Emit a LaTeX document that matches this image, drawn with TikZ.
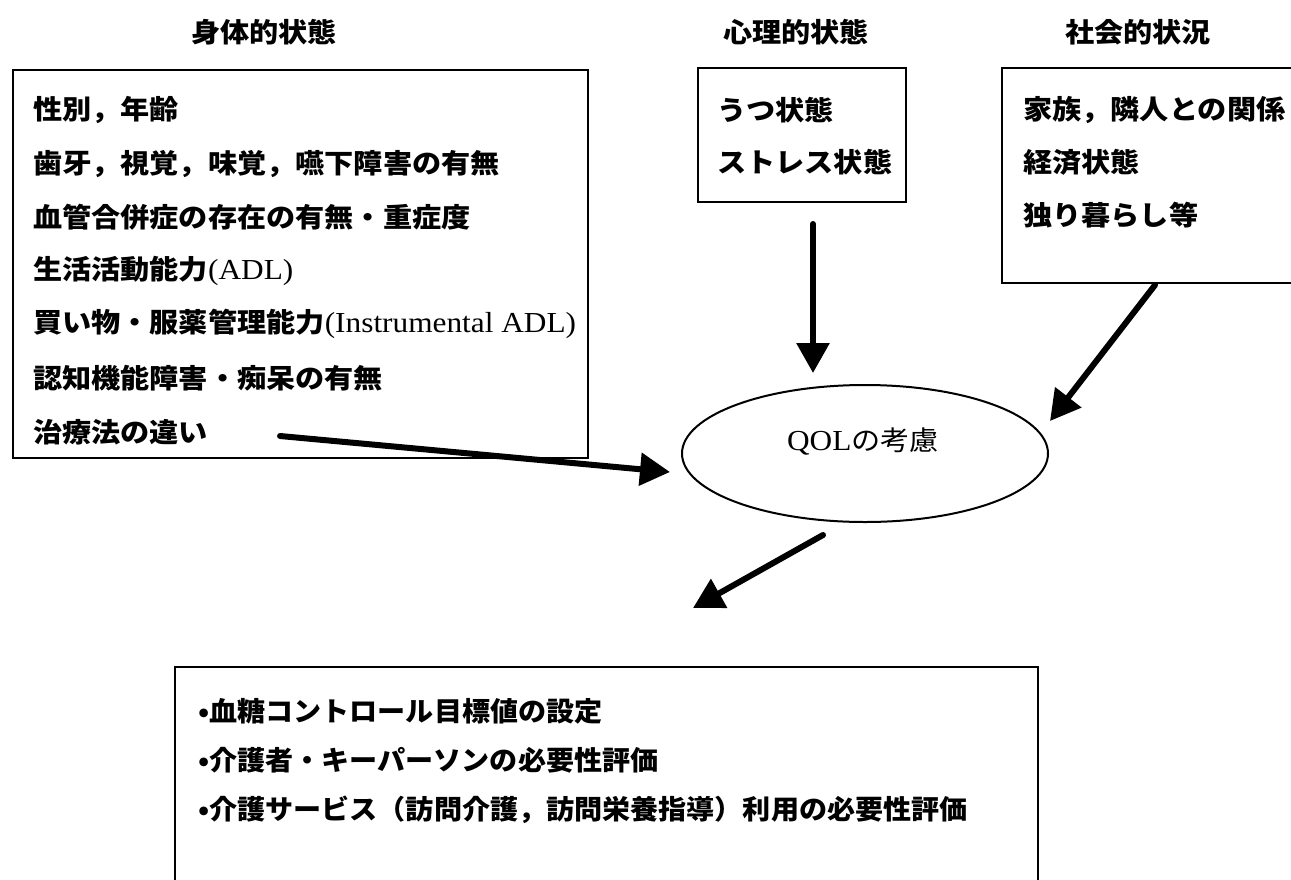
\documentclass[tikz,border=0pt]{standalone}
\usepackage{fontspec}
\setmainfont{Liberation Serif}[FakeStretch=1.08]
\newfontfamily\jp{Noto Sans CJK JP}[FakeStretch=1.08]
\newfontfamily\jpn{Noto Sans CJK JP}[FakeStretch=1.04]
\usetikzlibrary{arrows.meta,shapes.geometric}
\newcommand\latx[1]{{\rmfamily\mdseries\fontsize{29}{32}\selectfont #1}}
\tikzset{
  box/.style={draw, line width=2pt, rectangle, inner sep=0pt},
  txt/.style={anchor=west, inner sep=0pt, font=\fontsize{27}{32}\selectfont\jp\bfseries},
  rtxt/.style={anchor=west, inner sep=0pt, font=\fontsize{27}{32}\selectfont\jpn\bfseries},
  ttl/.style={anchor=center, inner sep=0pt, font=\fontsize{27}{32}\selectfont\jp\bfseries},
  arr/.style={line width=6pt, line cap=round, -{Triangle[length=30pt,width=32pt]}},
}
\begin{document}
\begin{tikzpicture}[x=1pt,y=-1pt]
\useasboundingbox (0,0) rectangle (1291,879);
\clip (0,0) rectangle (1291,879);
\fill[white] (0,0) rectangle (1291,879);

% titles
\node[ttl] (t1) at (264,32) {身体的状態};
\node[ttl] (t2) at (796,32) {心理的状態};
\node[ttl] (t3) at (1138,32) {社会的状況};

% boxes
\node[box, minimum width=575pt, minimum height=388pt] (body) at (300.5,264) {};
\node[box, minimum width=208pt, minimum height=134pt] (psy) at (802,135) {};
\node[box, minimum width=298pt, minimum height=215pt] (soc) at (1151,175.5) {};
\node[box, minimum width=863pt, minimum height=223pt] (res) at (606.5,778.5) {};
\node[draw, line width=2pt, ellipse, inner sep=0pt, minimum width=366pt, minimum height=137pt] (q) at (865,453.5) {};

% body lines
\node[txt] (b1) at (33,110) {性別，年齢};
\node[txt] (b2) at (33,164) {歯牙，視覚，味覚，嚥下障害の有無};
\node[txt] (b3) at (33,217) {血管合併症の存在の有無・重症度};
\node[txt] (b4) at (33,271) {生活活動能力\latx{(ADL)}};
\node[txt] (b5) at (33,324) {買い物・服薬管理能力\latx{(Instrumental ADL)}};
\node[txt] (b6) at (33,378) {認知機能障害・痴呆の有無};
\node[txt] (b7) at (33,432) {治療法の違い};

% psych lines
\node[txt] (p1) at (717,110) {うつ状態};
\node[txt] (p2) at (717,162) {ストレス状態};

% social lines
\node[txt] (s1) at (1023,110) {家族，隣人との関係};
\node[txt] (s2) at (1023,162) {経済状態};
\node[txt] (s3) at (1023,215) {独り暮らし等};

% QOL text
\node[anchor=center, inner sep=0pt, font=\fontsize{27}{32}\selectfont\jp] (qt) at (863,442) {\latx{QOL}の考慮};

% result lines
\node[rtxt] (r1) at (198,711) {•血糖コントロール目標値の設定};
\node[rtxt] (r2) at (198,760) {•介護者・キーパーソンの必要性評価};
\node[rtxt] (r3) at (198,810) {•介護サービス（訪問介護，訪問栄養指導）利用の必要性評価};

% arrow end points
\coordinate (a1s) at (280,436);
\coordinate (a1e) at (670,472);
\coordinate (a2s) at (813,224);
\coordinate (a2e) at (813,373);
\coordinate (a3s) at (1155,285);
\coordinate (a3e) at (1050,421);
\coordinate (a4s) at (823,535);
\coordinate (a4e) at (693,608);

\draw[arr] (a1s) -- (a1e);
\draw[arr] (a2s) -- (a2e);
\draw[arr] (a3s) -- (a3e);
\draw[arr] (a4s) -- (a4e);
\end{tikzpicture}
\end{document}
